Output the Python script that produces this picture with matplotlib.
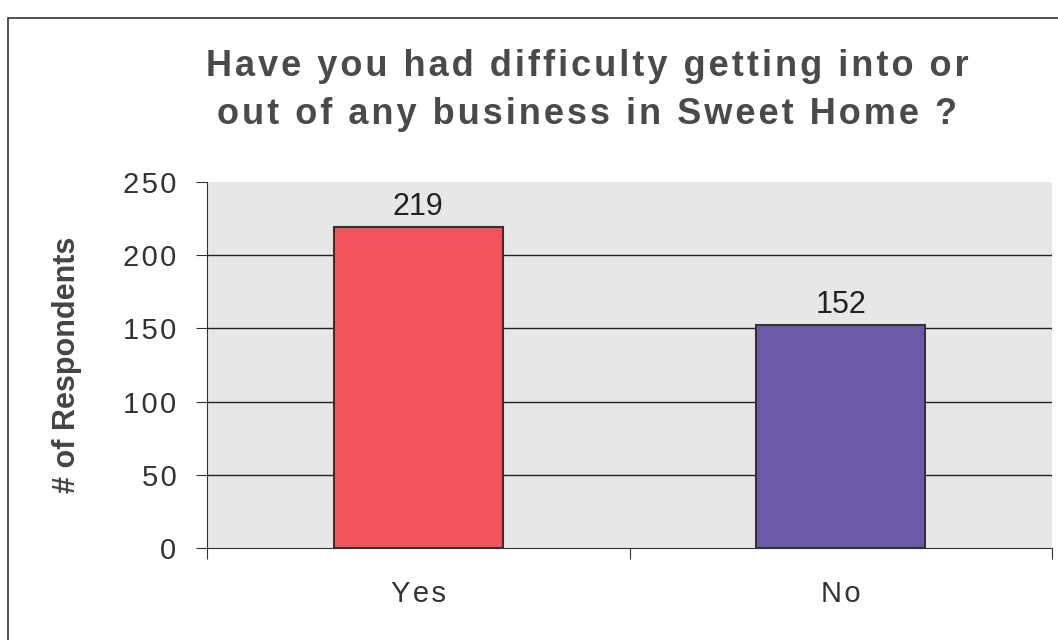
import matplotlib.pyplot as plt
from matplotlib.patches import Rectangle

categories = ["Yes", "No"]
counts = [219, 152]
bar_colors = ["#f2535d", "#6b5ba6"]
y_ticks = [0, 50, 100, 150, 200, 250]

plt.rcParams['font.family'] = ['Liberation Sans', 'DejaVu Sans']


def spaced(s):
    # the scanned chart uses loose letter spacing
    return '\u200a'.join(s)


fig = plt.figure(figsize=(10.58, 6.4), dpi=100)
fig.patch.set_facecolor('white')

# outer frame (only top and left are visible in the scan)
fig.patches.append(Rectangle((8 / 1058, -0.2), 1.2, 1.2 - 18 / 640,
                             transform=fig.transFigure, fill=False,
                             edgecolor='#333333', lw=1.2))

ax = fig.add_axes([207 / 1058, 1 - 548 / 640, 845 / 1058, 366 / 640])
ax.set_facecolor('#e8e7e8')

x = list(range(len(categories)))
ax.bar(x, counts, width=0.4, color=bar_colors, edgecolor='#333333', lw=1.5, zorder=3)
for xi, v in zip(x, counts):
    ax.text(xi, v + 4, str(v), ha='center', va='bottom', fontsize=22, color='#222222')

ax.set_xlim(-0.5, 1.5)
ax.set_ylim(0, 250)
ax.set_yticks(y_ticks)
ax.set_yticklabels([spaced(str(t)) for t in y_ticks], fontsize=21, color='#333333')
ax.tick_params(axis='y', length=8, pad=14, color='#333333')
for t in y_ticks[1:-1]:
    ax.axhline(t, color='#222222', lw=1, zorder=1)

ax.set_xticks([-0.5, 0.5, 1.5])
ax.set_xticklabels([])
ax.tick_params(axis='x', length=8, color='#333333')
for xi, c in zip(x, categories):
    ax.text(xi, -0.126, spaced(c), transform=ax.get_xaxis_transform(),
            ha='center', va='center', fontsize=21, color='#333333')

for s in ['top', 'right']:
    ax.spines[s].set_visible(False)
ax.spines['left'].set_color('#333333')
ax.spines['bottom'].set_color('#333333')

ax.set_ylabel('# of Respondents', fontsize=22, fontweight='bold', color='#444444')
ax.yaxis.set_label_coords(-0.148, 0.5)

title_lines = ['Have you had difficulty getting into or',
               'out of any business in Sweet Home ?']
for line, ypix in zip(title_lines, [67, 114]):
    fig.text(0.555, 1 - ypix / 640, spaced(line), ha='center', va='center',
             fontsize=26, fontweight='bold', color='#4a4a4a')

fig.savefig('out.png', dpi=100)
